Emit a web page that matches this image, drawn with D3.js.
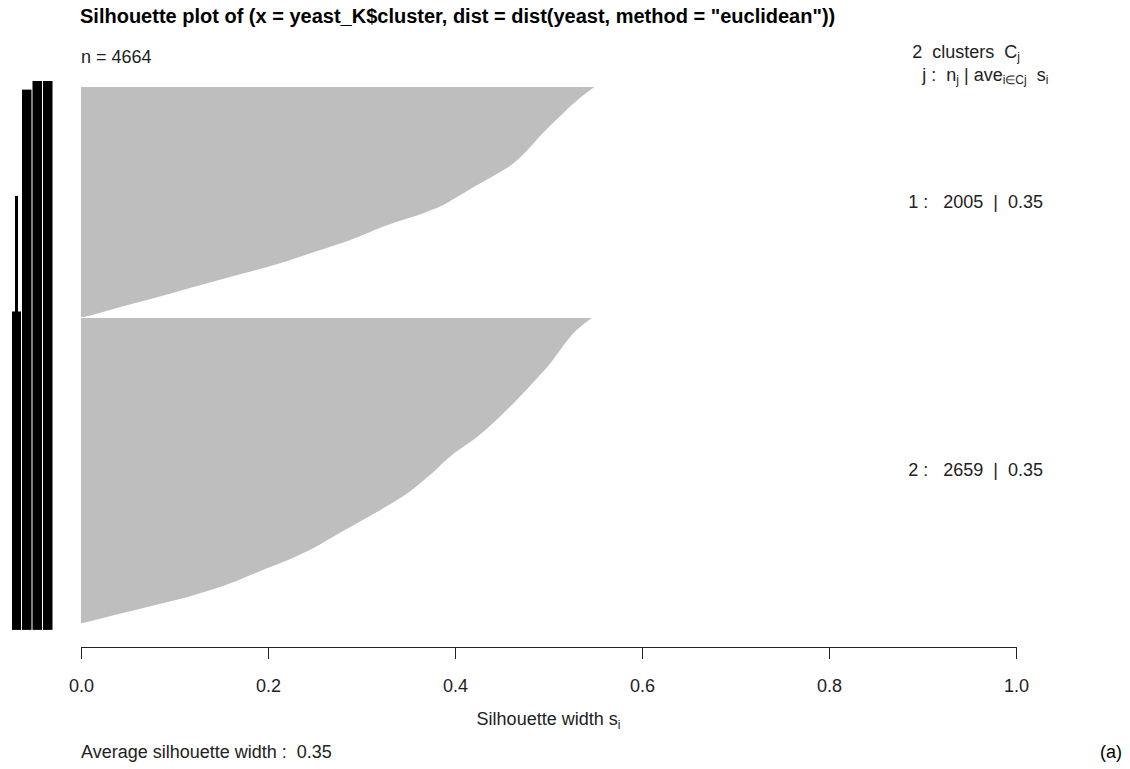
<!DOCTYPE html>
<html>
<head>
<meta charset="utf-8">
<script src="https://cdn.jsdelivr.net/npm/d3@7"></script>
<style>
  html, body { margin: 0; padding: 0; background: #fff; }
  svg { display: block; }
  text { font-family: "Liberation Sans", Arial, Helvetica, sans-serif; white-space: pre; }
</style>
</head>
<body>
<svg id="chart" width="1130" height="769"></svg>
<script>
// ---- data ----
const nObs = 4664;
const clusterIds = [1, 2];
const clusterSizes = [2005, 2659];
const clusterAvgWidths = [0.35, 0.35];
const avgWidth = 0.35;
const xTicks = [0.0, 0.2, 0.4, 0.6, 0.8, 1.0];
const xTickLabels = ["0.0", "0.2", "0.4", "0.6", "0.8", "1.0"];

// sorted silhouette widths s(i) within each cluster, sampled along the rank
// (position = fraction of the cluster's rows from top to bottom)
const cluster1Pos   = [0, 0.07, 0.128, 0.20, 0.28, 0.345, 0.388, 0.432, 0.475, 0.519, 0.548, 0.599, 0.664, 0.714, 0.765, 0.809, 0.852, 0.896, 0.939, 0.983, 1];
const cluster1Width = [0.549, 0.527, 0.512, 0.494, 0.476, 0.458, 0.440, 0.421, 0.403, 0.384, 0.366, 0.328, 0.288, 0.251, 0.213, 0.174, 0.135, 0.096, 0.057, 0.018, 0.002];
const cluster2Pos   = [0, 0.041, 0.096, 0.15, 0.205, 0.27, 0.336, 0.39, 0.444, 0.521, 0.586, 0.641, 0.706, 0.76, 0.793, 0.826, 0.88, 0.913, 0.946, 0.973, 1];
const cluster2Width = [0.547, 0.530, 0.515, 0.502, 0.486, 0.466, 0.444, 0.424, 0.399, 0.371, 0.344, 0.314, 0.276, 0.245, 0.222, 0.195, 0.151, 0.116, 0.073, 0.037, 0.002];

// overplotted observation labels on the left: row ranges covered by each digit place
const labelPlace    = ["thousands", "thousands", "hundreds", "tens", "ones"];
const labelGlyph    = ["narrow", "wide", "wide", "wide", "wide"];
const labelRowStart = [1000, 2006, 75, 0, 0];
const labelRowEnd   = [2005, 4664, 4664, 4664, 4664];

// ---- layout / style ----
const svg = d3.select("#chart");
const plotTop = 87, plotBottom = 623;
const gapRows = 1;
const fs = 18;            // base text size
const subFs = 12;         // subscript size

const x = d3.scaleLinear().domain([0, 1]).range([81, 1016]);
const yRow = d3.scaleLinear().domain([0, nObs + gapRows]).range([plotTop, plotBottom]);

const labelColX = {
  thousands: { narrow: [15, 18], wide: [12, 21] },
  hundreds:  { wide: [22, 31.5] },
  tens:      { wide: [32.5, 42] },
  ones:      { wide: [43, 52.5] }
};
const glyphPadTop = 6, glyphPadBottom = 7;

// place a text so that fraction `adj` of its width lies left of xAnchor
function adjust(sel, xAnchor, adj) {
  const w = sel.node().getComputedTextLength();
  sel.attr("x", xAnchor - adj * w).attr("text-anchor", "start");
}

// ---- silhouette bars (one filled profile per cluster) ----
const profiles = [
  { pos: cluster1Pos, width: cluster1Width },
  { pos: cluster2Pos, width: cluster2Width }
];
let offset = 0;
const clusterOffsets = [];
clusterSizes.forEach((n, k) => {
  clusterOffsets.push(offset);
  offset += n + (k < clusterSizes.length - 1 ? gapRows : 0);
});

const area = d3.area()
  .curve(d3.curveMonotoneY)
  .y(d => d.y)
  .x0(x(0))
  .x1(d => d.x);

profiles.forEach((p, k) => {
  const off = clusterOffsets[k], n = clusterSizes[k];
  const pts = p.pos.map((t, i) => ({ y: yRow(off + t * n), x: x(p.width[i]) }));
  svg.append("path")
    .attr("d", area(pts))
    .attr("fill", "#bebebe")
    .attr("stroke", "none");
});

// thin white separator between the clusters
clusterOffsets.slice(1).forEach(off => {
  svg.append("line")
    .attr("x1", x(0)).attr("x2", x(0.6))
    .attr("y1", yRow(off - gapRows / 2)).attr("y2", yRow(off - gapRows / 2))
    .attr("stroke", "#fff").attr("stroke-width", 1);
});

// ---- overplotted row labels ----
labelPlace.forEach((place, i) => {
  const [xa, xb] = labelColX[place][labelGlyph[i]];
  const y0 = yRow(labelRowStart[i]) - glyphPadTop;
  const y1 = yRow(labelRowEnd[i]) + glyphPadBottom;
  svg.append("rect")
    .attr("x", xa).attr("y", y0)
    .attr("width", xb - xa).attr("height", y1 - y0)
    .attr("fill", "#000");
});

// ---- x axis ----
const axisY = 647;
const axis = d3.axisBottom(x)
  .tickValues(xTicks)
  .tickFormat((d, i) => xTickLabels[i])
  .tickSize(12)
  .tickPadding(20);
const gAxis = svg.append("g").attr("transform", `translate(0,${axisY})`).call(axis);
gAxis.select(".domain").attr("stroke", "#222").attr("d", `M${x(0)},0.5H${x(1)}`);
gAxis.selectAll(".tick line").attr("stroke", "#222");
gAxis.selectAll(".tick text")
  .attr("font-family", "'Liberation Sans', Arial, sans-serif")
  .attr("font-size", fs).attr("fill", "#222");

// axis title with subscript
const xt = svg.append("text")
  .attr("x", x(0.5)).attr("y", 725)
  .attr("text-anchor", "middle")
  .attr("font-size", fs).attr("fill", "#222");
xt.append("tspan").text("Silhouette width s");
xt.append("tspan").attr("font-size", subFs).attr("dy", 4).text("i");

// ---- titles and annotations ----
svg.append("text")
  .attr("x", 80).attr("y", 23)
  .attr("font-size", 20).attr("font-weight", "bold").attr("fill", "#000")
  .text('Silhouette plot of (x = yeast_K$cluster, dist = dist(yeast, method = "euclidean"))');

svg.append("text")
  .attr("x", x(0)).attr("y", 63)
  .attr("font-size", fs).attr("fill", "#222")
  .text(`n = ${nObs}`);

const h1 = svg.append("text")
  .attr("y", 58)
  .attr("font-size", fs).attr("fill", "#222");
h1.append("tspan").text(`${clusterIds.length}  clusters  C`);
h1.append("tspan").attr("font-size", subFs).attr("dy", 3).text("j");
adjust(h1, x(1) + 4, 1);

const h2 = svg.append("text")
  .attr("y", 81)
  .attr("font-size", fs).attr("fill", "#222");
h2.append("tspan").text("j :  n");
h2.append("tspan").attr("font-size", subFs).attr("dy", 3).text("j");
h2.append("tspan").attr("dy", -3).text(" | ave");
h2.append("tspan").attr("font-size", subFs).attr("dy", 3).text("i\u2208Cj");
h2.append("tspan").attr("dy", -3).text("  s");
h2.append("tspan").attr("font-size", subFs).attr("dy", 3).text("i");
adjust(h2, x(1.04), 1.04);

clusterIds.forEach((id, k) => {
  const mid = clusterOffsets[k] + clusterSizes[k] / 2;
  const t = svg.append("text")
    .attr("y", yRow(mid) + 6)
    .attr("font-size", fs).attr("fill", "#222")
    .text(`${id} :   ${clusterSizes[k]}  |  ${clusterAvgWidths[k].toFixed(2)}`);
  adjust(t, x(1), 0.8);
});

svg.append("text")
  .attr("x", x(0)).attr("y", 758)
  .attr("font-size", fs).attr("fill", "#222")
  .text(`Average silhouette width :  ${avgWidth.toFixed(2)}`);

svg.append("text")
  .attr("x", 1100).attr("y", 758)
  .attr("font-family", "'Liberation Serif', 'Times New Roman', serif")
  .attr("font-size", 18).attr("fill", "#000")
  .text("(a)");
</script>
</body>
</html>
